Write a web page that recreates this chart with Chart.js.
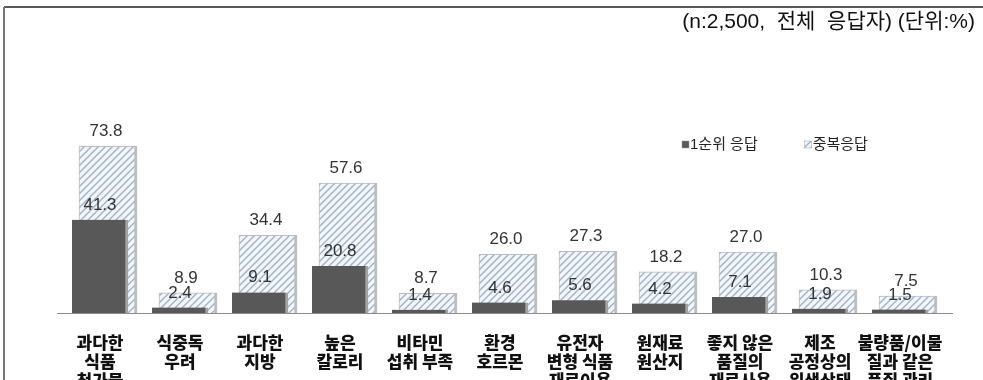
<!DOCTYPE html>
<html>
<head>
<meta charset="utf-8">
<script src="https://cdn.jsdelivr.net/npm/chart.js@4.4.1/dist/chart.umd.min.js"></script>
<style>
  html, body { margin: 0; padding: 0; background: #fff; }
  canvas { display: block; }
</style>
</head>
<body>
<canvas id="chart" width="983" height="380"></canvas>
<script>
(() => {

  // categories, one array entry per line of the label
  const categories = [
    ['과다한', '식품', '첨가물'],
    ['식중독', '우려'],
    ['과다한', '지방'],
    ['높은', '칼로리'],
    ['비타민', '섭취 부족'],
    ['환경', '호르몬'],
    ['유전자', '변형 식품', '재료이용'],
    ['원재료', '원산지'],
    ['좋지 않은', '품질의', '재료사용'],
    ['제조', '공정상의', '위생상태'],
    ['불량품/이물', '질과 같은', '품질 관리']
  ];
  const firstChoice = [41.3, 2.4, 9.1, 20.8, 1.4, 4.6, 5.6, 4.2, 7.1, 1.9, 1.5];
  const multiChoice = [73.8, 8.9, 34.4, 57.6, 8.7, 26.0, 27.3, 18.2, 27.0, 10.3, 7.5];
  const seriesNames = ['1순위 응답', '중복응답'];
  const note = '(n:2,500,  전체  응답자) (단위:%)';

  const numFont = '"Liberation Sans", Arial, "Noto Sans CJK KR", sans-serif';
  const shift = 0.1; // hatched bar sits a little to the right of the solid one

  // light diagonal hatch for the multiple-answer bars
  function stripes() {
    const n = 7;
    const c = document.createElement('canvas');
    c.width = n; c.height = n;
    const g = c.getContext('2d');
    g.fillStyle = '#f3f6fa';
    g.fillRect(0, 0, n, n);
    g.strokeStyle = '#9fb1cd';
    g.lineWidth = 1.4;
    g.beginPath();
    g.moveTo(0, n); g.lineTo(n, 0);
    g.moveTo(-1, 1); g.lineTo(1, -1);
    g.moveTo(n - 1, n + 1); g.lineTo(n + 1, n - 1);
    g.stroke();
    return g.createPattern(c, 'repeat');
  }
  const hatch = stripes();

  // outer frame lines
  const frame = {
    id: 'frame',
    beforeDraw(chart) {
      const ctx = chart.ctx;
      ctx.save();
      ctx.strokeStyle = '#222';
      ctx.lineWidth = 1.5;
      ctx.beginPath(); ctx.moveTo(4, 7); ctx.lineTo(983, 7); ctx.stroke();
      ctx.strokeStyle = '#777';
      ctx.lineWidth = 2;
      ctx.beginPath(); ctx.moveTo(4, 7); ctx.lineTo(4, 380); ctx.stroke();
      ctx.restore();
    }
  };

  // numbers above every bar
  const valueLabels = {
    id: 'valueLabels',
    afterDatasetsDraw(chart) {
      const ctx = chart.ctx;
      ctx.save();
      ctx.font = '17px ' + numFont;
      ctx.fillStyle = '#333';
      ctx.textAlign = 'center';
      ctx.textBaseline = 'alphabetic';
      chart.data.datasets.forEach((ds, d) => {
        chart.getDatasetMeta(d).data.forEach((bar, i) => {
          ctx.fillText(ds.data[i].y.toFixed(1), bar.x - 2 * d, bar.y - 10);
        });
      });
      ctx.restore();
    }
  };

  // small legend inside the plot, upper right
  const legendBox = {
    id: 'legendBox',
    afterDraw(chart) {
      const ctx = chart.ctx;
      let x = 682;
      const y = 145;
      ctx.save();
      ctx.font = '15px ' + numFont;
      ctx.textBaseline = 'middle';
      chart.data.datasets.forEach((ds) => {
        ctx.fillStyle = ds.backgroundColor;
        ctx.fillRect(x, y - 4, 7, 7);
        ctx.strokeStyle = '#999';
        ctx.lineWidth = 0.5;
        ctx.strokeRect(x, y - 4, 7, 7);
        ctx.fillStyle = '#222';
        ctx.fillText(ds.label, x + 8, y);
        x += 8 + ctx.measureText(ds.label).width + 47;
      });
      ctx.restore();
    }
  };

  new Chart(document.getElementById('chart'), {
    type: 'bar',
    data: {
      datasets: [{
        label: seriesNames[0],
        data: firstChoice.map((v, i) => ({x: i, y: v})),
        backgroundColor: '#585858',
        borderColor: '#a3a3a3',
        borderWidth: {top: 0, left: 0, bottom: 0, right: 3},
        barThickness: 56,
        grouped: false
      }, {
        label: seriesNames[1],
        data: multiChoice.map((v, i) => ({x: i + shift, y: v})),
        backgroundColor: hatch,
        borderColor: '#bcbcbc',
        borderWidth: {top: 1, left: 1, bottom: 0, right: 3},
        barThickness: 58,
        grouped: false
      }]
    },
    plugins: [frame, valueLabels, legendBox],
    options: {
      responsive: false,
      animation: false,
      events: [],
      layout: {padding: {left: 57, right: 8, top: 0, bottom: 0}},
      plugins: {
        legend: {display: false},
        tooltip: {enabled: false},
        title: {
          display: true,
          text: note,
          align: 'end',
          color: '#111',
          font: {family: numFont, size: 21, weight: 'normal'},
          padding: {top: 10, bottom: 25}
        }
      },
      scales: {
        x: {
          type: 'linear',
          offset: false,
          min: -0.5375,
          max: 10.65,
          afterBuildTicks: (s) => { s.ticks = categories.map((c, i) => ({value: i})); },
          afterFit: (s) => {
            s.height = 67;
            s.paddingLeft = 0;
            s.paddingRight = 0;
          },
          grid: {display: false, offset: false},
          border: {display: true, color: '#8c8c8c', width: 1},
          ticks: {
            autoSkip: false,
            maxRotation: 0,
            padding: 12,
            color: '#111',
            font: {family: '"Noto Sans CJK KR", sans-serif', size: 17, weight: '900', lineHeight: 1.12},
            callback: (v) => categories[v]
          }
        },
        y: {
          display: false,
          min: 0,
          max: 112
        },
        pad: {
          type: 'linear',
          axis: 'y',
          position: 'right',
          grid: {display: false},
          border: {display: false},
          ticks: {display: false},
          afterFit: (s) => { s.width = 23; }
        }
      }
    }
  });

})();
</script>
</body>
</html>
